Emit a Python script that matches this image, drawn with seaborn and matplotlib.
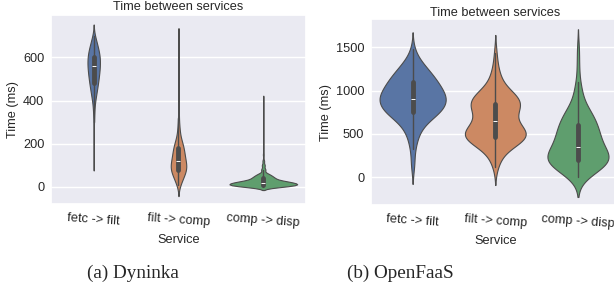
import numpy as np
import pandas as pd
import matplotlib.pyplot as plt
import seaborn as sns

services = ["fetc -> filt", "filt -> comp", "comp -> disp"]

# Dyninka: time between services (ms), value -> number of samples at that value
dyn_fetc_vals = [131, 170, 210, 260, 300, 340, 370, 400, 420, 440, 460, 480, 500, 520,
                 540, 560, 580, 600, 620, 640, 660, 680, 697]
dyn_fetc_counts = [1, 1, 1, 2, 3, 5, 7, 10, 13, 17, 21, 25, 28, 31,
                   34, 36, 37, 36, 33, 27, 20, 13, 8]

dyn_filt_vals = [10, 20, 40, 60, 80, 100, 120, 140, 160, 180, 200, 220, 250, 280,
                 320, 360, 400, 450, 500, 560, 620, 683]
dyn_filt_counts = [12, 24, 42, 66, 84, 84, 72, 60, 60, 54, 42, 30, 21, 15,
                   9, 6, 6, 3, 3, 3, 3, 3]

dyn_comp_vals = [0, 5, 10, 15, 20, 25, 30, 40, 50, 60, 80, 100, 120, 150, 180,
                 210, 240, 270, 300, 340, 380, 408]
dyn_comp_counts = [200, 400, 440, 400, 340, 280, 240, 280, 200, 140, 80, 56, 32, 16, 10,
                   8, 8, 6, 4, 2, 2, 2]

# OpenFaaS
ofs_fetc_vals = [119, 200, 323, 400, 500, 600, 700, 750, 800, 850, 900, 950, 1000,
                 1050, 1100, 1150, 1200, 1250, 1300, 1350, 1400, 1477]
ofs_fetc_counts = [1, 1, 1, 2, 3, 6, 8, 8, 8, 9, 10, 9, 8,
                   7, 7, 6, 5, 4, 3, 2, 1, 1]

ofs_filt_vals = [122, 200, 300, 400, 450, 500, 550, 600, 650, 700, 750, 800, 850, 900,
                 950, 1000, 1100, 1200, 1300, 1431]
ofs_filt_counts = [1, 2, 4, 8, 9, 10, 7, 5, 4, 3, 5, 6, 7, 7,
                   5, 4, 3, 2, 1, 1]

ofs_comp_vals = [7, 50, 100, 150, 200, 250, 300, 350, 400, 450, 500, 550, 600, 650,
                 700, 750, 800, 900, 1000, 1100, 1276, 1473]
ofs_comp_counts = [2, 3, 5, 8, 10, 8, 6, 5, 5, 5, 5, 5, 4, 4,
                   4, 3, 3, 2, 2, 1, 1, 1]


def build(groups):
    frames = []
    for name, (vals, counts) in zip(services, groups):
        frames.append(pd.DataFrame({"Service": name,
                                    "Time (ms)": np.repeat(vals, counts)}))
    return pd.concat(frames, ignore_index=True)


dyn = build([(dyn_fetc_vals, dyn_fetc_counts),
             (dyn_filt_vals, dyn_filt_counts),
             (dyn_comp_vals, dyn_comp_counts)])
ofs = build([(ofs_fetc_vals, ofs_fetc_counts),
             (ofs_filt_vals, ofs_filt_counts),
             (ofs_comp_vals, ofs_comp_counts)])

sns.set_theme(style="darkgrid")
plt.rcParams["font.family"] = ["Liberation Sans", "DejaVu Sans"]

fig = plt.figure(figsize=(6.14, 2.92), dpi=100)
ax1 = fig.add_axes([51.3 / 614, 1 - 204 / 292, 254.4 / 614, 189 / 292])
ax2 = fig.add_axes([371.3 / 614, 1 - 205 / 292, 248 / 614, 185.7 / 292])

fs = 9.2
for ax, df, ylim, tpad in [(ax1, dyn, (-79, 796), 3.6), (ax2, ofs, (-320, 1823), 2.4)]:
    sns.violinplot(data=df, x="Service", y="Time (ms)", hue="Service", order=services,
                   hue_order=services, palette="deep", legend=False, ax=ax,
                   common_norm=True, linewidth=0.8,
                   inner_kws=dict(box_width=3.5, whis_width=1))
    ax.set_ylim(*ylim)
    ax.set_title("Time between services", fontsize=fs, pad=tpad)
    ax.set_xlabel("Service", fontsize=fs, labelpad=3)
    ax.set_ylabel("Time (ms)", fontsize=fs, labelpad=3)
    ax.tick_params(axis="both", length=0, labelsize=fs)
    ax.tick_params(axis="y", pad=5)
    ax.tick_params(axis="x", pad=6)
    for lbl in ax.get_xticklabels():
        lbl.set_rotation(-4)

cap = dict(family=["Liberation Serif", "DejaVu Serif"], fontsize=13.8, ha="center", va="baseline")
fig.text(133 / 614, 1 - 278 / 292, "(a) Dyninka", **cap)
fig.text(400.5 / 614, 1 - 278 / 292, "(b) OpenFaaS", **cap)

fig.savefig("out.png", dpi=100)
